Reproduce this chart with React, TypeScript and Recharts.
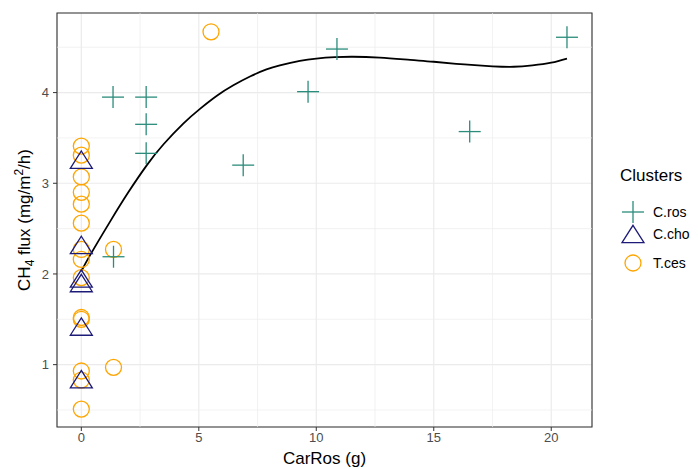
import {
  CartesianGrid,
  ComposedChart,
  Label,
  Line,
  ReferenceArea,
  ReferenceLine,
  Scatter,
  XAxis,
  YAxis,
} from 'recharts';

const FONT = '"Liberation Sans", Arial, sans-serif';

// points per cluster
const CROS_X = [1.35, 2.76, 2.76, 2.76, 6.89, 1.37, 9.65, 10.88, 16.53, 20.67];
const CROS_Y = [3.95, 3.95, 3.65, 3.33, 3.2, 2.19, 4.01, 4.48, 3.57, 4.61];

const CCHO_X = [0, 0, 0, 0, 0, 0];
const CCHO_Y = [3.26, 2.32, 1.95, 1.9, 1.42, 0.84];

const TCES_X = [0, 0, 0, 0, 0, 0, 0, 0, 0, 0, 0, 0, 0, 0, 1.37, 1.37, 5.52];
const TCES_Y = [3.41, 3.31, 3.07, 2.9, 2.77, 2.56, 2.27, 2.16, 1.96, 1.52, 1.5, 0.93, 0.83, 0.51, 2.27, 0.97, 4.67];

// fitted smooth curve
const CURVE_X = [0, 0.38, 1.23, 2.0, 2.79, 3.5, 4.35, 5.05, 5.8, 6.47, 7.2, 7.88, 8.45, 9.3, 10, 10.8, 11.56, 12.7, 14, 15, 16.3, 17.5, 18.4, 19.2, 20, 20.67];
const CURVE_Y = [2.03, 2.21, 2.58, 2.9, 3.2, 3.43, 3.66, 3.82, 3.97, 4.08, 4.18, 4.255, 4.3, 4.35, 4.375, 4.39, 4.395, 4.385, 4.36, 4.34, 4.31, 4.29, 4.285, 4.3, 4.33, 4.375];

const X_TICKS = [0, 5, 10, 15, 20];
const Y_TICKS = [1, 2, 3, 4];
const X_MINOR = [2.5, 7.5, 12.5, 17.5];
const Y_MINOR = [0.5, 1.5, 2.5, 3.5, 4.5];

const X_DOMAIN: [number, number] = [-1.035, 21.735];
const Y_DOMAIN: [number, number] = [0.3125, 4.8775];

const TEAL = '#2B8C7B';
const NAVY = '#1D1B78';
const ORANGE = '#FFA500';

const zip = (xs: number[], ys: number[]) => xs.map((x, i) => ({ x, y: ys[i] }));

const crosData = zip(CROS_X, CROS_Y);
const cchoData = zip(CCHO_X, CCHO_Y);
const tcesData = zip(TCES_X, TCES_Y);
const curveData = zip(CURVE_X, CURVE_Y);

function Plus({ cx, cy, color }: { cx: number; cy: number; color: string }) {
  return (
    <g stroke={color} strokeWidth={1.3}>
      <line x1={cx - 11} x2={cx + 11} y1={cy} y2={cy} />
      <line x1={cx} x2={cx} y1={cy - 11} y2={cy + 11} />
    </g>
  );
}

function Tri({ cx, cy, color }: { cx: number; cy: number; color: string }) {
  return (
    <polygon
      points={`${cx},${cy - 8.7} ${cx + 11},${cy + 8.7} ${cx - 11},${cy + 8.7}`}
      fill="none"
      stroke={color}
      strokeWidth={1.3}
    />
  );
}

function Circ({ cx, cy, color }: { cx: number; cy: number; color: string }) {
  return <circle cx={cx} cy={cy} r={8} fill="none" stroke={color} strokeWidth={1.3} />;
}

function YTitle(props: any) {
  const vb = props.viewBox || { y: 13, height: 414 };
  const cy = vb.y + vb.height / 2;
  return (
    <text
      x={0}
      y={0}
      transform={`translate(30, ${cy}) rotate(-90)`}
      textAnchor="middle"
      fontSize={17}
      fontFamily={FONT}
      fill="#000"
    >
      CH<tspan dy={4} fontSize={12}>4</tspan>
      <tspan dy={-4}> flux (mg/m</tspan>
      <tspan dy={-7} fontSize={12}>2</tspan>
      <tspan dy={7}>/h)</tspan>
    </text>
  );
}

export default function App() {
  return (
    <div style={{ position: 'absolute', left: 0, top: 0, width: 698, height: 469, background: '#fff' }}>
      <ComposedChart width={698} height={469} margin={{ top: 13, right: 106, bottom: 12, left: 20 }}>
        <CartesianGrid stroke="#EBEBEB" strokeWidth={1.2} />
        {X_MINOR.map((v) => (
          <ReferenceLine key={`xm${v}`} x={v} stroke="#EDEDED" strokeWidth={0.7} />
        ))}
        {Y_MINOR.map((v) => (
          <ReferenceLine key={`ym${v}`} y={v} stroke="#EDEDED" strokeWidth={0.7} />
        ))}
        <XAxis
          type="number"
          dataKey="x"
          domain={X_DOMAIN}
          allowDataOverflow
          ticks={X_TICKS}
          height={30}
          axisLine={false}
          tickLine={{ stroke: '#333333' }}
          tickSize={4}
          tickMargin={2}
          tick={{ fill: '#4D4D4D', fontSize: 13, fontFamily: FONT }}
        >
          <Label
            value="CarRos (g)"
            position="insideBottom"
            offset={-7}
            style={{ fontSize: 17, fontFamily: FONT, fill: '#000' }}
          />
        </XAxis>
        <YAxis
          type="number"
          dataKey="y"
          domain={Y_DOMAIN}
          allowDataOverflow
          ticks={Y_TICKS}
          width={37}
          axisLine={false}
          tickLine={{ stroke: '#333333' }}
          tickSize={4}
          tickMargin={4}
          tick={{ fill: '#4D4D4D', fontSize: 13, fontFamily: FONT }}
        >
          <Label content={YTitle} />
        </YAxis>
        <Scatter
          name="T.ces"
          data={tcesData}
          isAnimationActive={false}
          shape={(p: any) => <Circ cx={p.cx} cy={p.cy} color={ORANGE} />}
        />
        <Scatter
          name="C.cho"
          data={cchoData}
          isAnimationActive={false}
          shape={(p: any) => <Tri cx={p.cx} cy={p.cy} color={NAVY} />}
        />
        <Scatter
          name="C.ros"
          data={crosData}
          isAnimationActive={false}
          shape={(p: any) => <Plus cx={p.cx} cy={p.cy} color={TEAL} />}
        />
        <Line
          data={curveData}
          dataKey="y"
          type="natural"
          stroke="#000"
          strokeWidth={1.8}
          dot={false}
          activeDot={false}
          isAnimationActive={false}
        />
        <ReferenceArea
          x1={X_DOMAIN[0]}
          x2={X_DOMAIN[1]}
          y1={Y_DOMAIN[0]}
          y2={Y_DOMAIN[1]}
          fill="none"
          fillOpacity={0}
          stroke="#333333"
          strokeWidth={1.1}
        />
      </ComposedChart>
      <svg
        width={100}
        height={130}
        style={{ position: 'absolute', left: 598, top: 150 }}
        fontFamily={FONT}
      >
        <text x={22} y={31} fontSize={17} fill="#000">Clusters</text>
        <Plus cx={35} cy={62} color={TEAL} />
        <text x={55} y={67} fontSize={14} fill="#000">C.ros</text>
        <Tri cx={35} cy={84} color={NAVY} />
        <text x={55} y={89} fontSize={14} fill="#000">C.cho</text>
        <Circ cx={35} cy={113} color={ORANGE} />
        <text x={55} y={118} fontSize={14} fill="#000">T.ces</text>
      </svg>
    </div>
  );
}
